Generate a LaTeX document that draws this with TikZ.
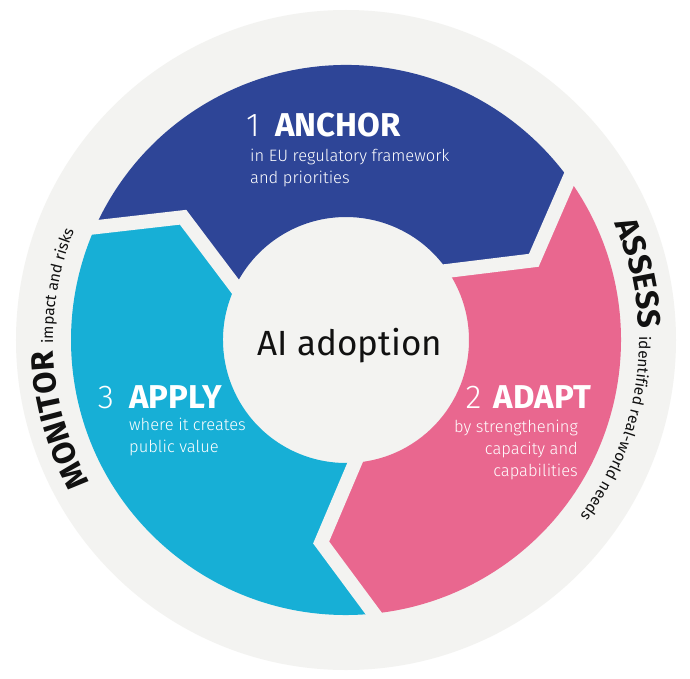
\documentclass[tikz,border=0pt]{standalone}
\usepackage{fontspec}
\setmainfont{Fira Sans Light}[BoldFont={Fira Sans Bold}]
\newfontfamily\regfont{Fira Sans}
\usetikzlibrary{calc,decorations.text}
\definecolor{ringgray}{HTML}{F3F3F1}
\definecolor{ancblue}{HTML}{2E4597}
\definecolor{adpink}{HTML}{E9678F}
\definecolor{apcyan}{HTML}{17AFD6}
\definecolor{inkblack}{HTML}{111111}
\begin{document}
\begin{tikzpicture}[x=1pt,y=1pt,
  gap/.style={draw=ringgray, line width=14pt, line join=miter},
  titlenum/.style={text=white, font=\fontsize{33}{36}\selectfont, inner sep=0pt},
  titleword/.style={text=white, font=\fontsize{33}{36}\selectfont\bfseries, inner sep=0pt},
  caption/.style={text=white, font=\fontsize{16.5}{19}\selectfont, inner sep=0pt},
]
\path[fill=white, use as bounding box] (-346,-338) rectangle (344,340);
\fill[ringgray] (0,0) circle[radius=330];
% boundary points
\coordinate (B1o) at (35.8:275);
\coordinate (B1v) at (23:204);
\coordinate (B1i) at (34.2:123);
\coordinate (B2o) at (-84.2:275);
\coordinate (B2v) at (-97:204);
\coordinate (B2i) at (-85.8:123);
\coordinate (B3o) at (155.8:275);
\coordinate (B3v) at (143:204);
\coordinate (B3i) at (154.2:123);
% segments
\fill[ancblue] (B3o) arc[start angle=155.8, end angle=35.8, radius=275] -- (B1v) -- (B1i)
  arc[start angle=34.2, end angle=154.2, radius=123] -- (B3v) -- cycle;
\fill[adpink] (B1o) arc[start angle=35.8, end angle=-84.2, radius=275] -- (B2v) -- (B2i)
  arc[start angle=-85.8, end angle=34.2, radius=123] -- (B1v) -- cycle;
\fill[apcyan] (B2o) arc[start angle=275.8, end angle=155.8, radius=275] -- (B3v) -- (B3i)
  arc[start angle=154.2, end angle=274.2, radius=123] -- (B2v) -- cycle;
% gaps
\draw[gap] ($(B1v)!1.35!(B1o)$) -- (B1v) -- ($(B1v)!1.35!(B1i)$);
\draw[gap] ($(B2v)!1.35!(B2o)$) -- (B2v) -- ($(B2v)!1.35!(B2i)$);
\draw[gap] ($(B3v)!1.35!(B3o)$) -- (B3v) -- ($(B3v)!1.35!(B3i)$);
% texts
\node[titleword, anchor=base west] (anchorW) at (-71,204) {ANCHOR};
\node[titlenum, anchor=base east] (anchorN) at (-86,204) {1};
\node[caption, anchor=base west] (anchorC1) at (-96,179) {in EU regulatory framework};
\node[caption, anchor=base west] (anchorC2) at (-96,157) {and priorities};
\node[titleword, anchor=base west] (applyW) at (-217,-68) {APPLY};
\node[titlenum, anchor=base east] (applyN) at (-232,-68) {3};
\node[caption, anchor=base west] (applyC1) at (-217,-90) {where it creates};
\node[caption, anchor=base west] (applyC2) at (-217,-112) {public value};
\node[titleword, anchor=base east] (adaptW) at (245,-68) {ADAPT};
\node[titlenum, anchor=base east] (adaptN) at ($(adaptW.base west)+(-12,0)$) {2};
\node[caption, anchor=base east] (adaptC1) at (232,-92) {by strengthening};
\node[caption, anchor=base east] (adaptC2) at (232,-114) {capacity and};
\node[caption, anchor=base east] (adaptC3) at (232,-136) {capabilities};
\node[anchor=base, font=\regfont\fontsize{35}{40}\selectfont, text=inkblack, inner sep=0pt] (center) at (4,-15) {AI adoption};
% curved texts
\path[decorate, decoration={text along path, text align=center, text color=inkblack,
  text={|\fontsize{32}{32}\selectfont\bfseries|MONITOR |\regfont\fontsize{15.5}{16}\selectfont|impact and risks}}]
  (240.5:293) arc[start angle=240.5, end angle=126.5, radius=293];
\path[decorate, decoration={text along path, text align=center, text color=inkblack,
  text={|\fontsize{32}{32}\selectfont\bfseries|ASSESS |\regfont\fontsize{15.5}{16}\selectfont|identified real-world needs}}]
  (54:293) arc[start angle=54, end angle=-67.5, radius=293];
\end{tikzpicture}
\end{document}
